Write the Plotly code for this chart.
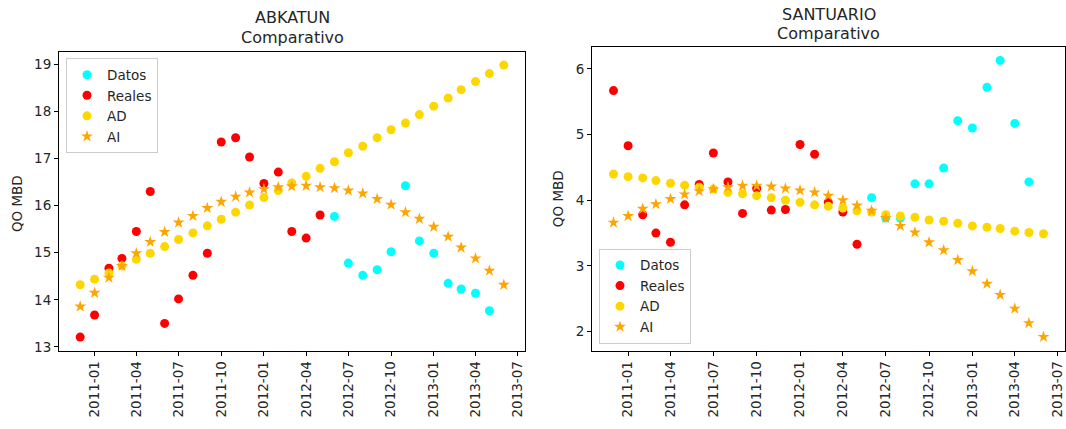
import plotly.graph_objects as go
import pandas as pd

# ---------------- data ----------------
months = ["2010-12-01", "2011-01-01", "2011-02-01", "2011-03-01", "2011-04-01", "2011-05-01",
          "2011-06-01", "2011-07-01", "2011-08-01", "2011-09-01", "2011-10-01", "2011-11-01",
          "2011-12-01", "2012-01-01", "2012-02-01", "2012-03-01", "2012-04-01", "2012-05-01",
          "2012-06-01", "2012-07-01", "2012-08-01", "2012-09-01", "2012-10-01", "2012-11-01",
          "2012-12-01", "2013-01-01", "2013-02-01", "2013-03-01", "2013-04-01", "2013-05-01",
          "2013-06-01"]
reales_months = months[:18]
datos_months = months[18:30]

abk_reales = [13.21, 13.68, 14.67, 14.88, 15.45, 16.30, 13.50, 14.02, 14.52, 14.99, 17.35, 17.44,
              17.03, 16.47, 16.71, 15.45, 15.31, 15.80]
abk_datos = [15.77, 14.78, 14.52, 14.64, 15.02, 16.42, 15.25, 14.99, 14.35, 14.23, 14.14, 13.77]
abk_ad = [14.32, 14.44, 14.57, 14.72, 14.86, 14.99, 15.13, 15.28, 15.42, 15.57, 15.71, 15.86,
          16.01, 16.17, 16.32, 16.48, 16.62, 16.79, 16.93, 17.12, 17.26, 17.44, 17.61, 17.75,
          17.93, 18.11, 18.28, 18.46, 18.63, 18.80, 18.98]
abk_ai = [13.86, 14.15, 14.47, 14.72, 14.99, 15.23, 15.44, 15.64, 15.78, 15.95, 16.08, 16.19,
          16.28, 16.35, 16.39, 16.41, 16.42, 16.39, 16.37, 16.32, 16.26, 16.14, 16.02, 15.86,
          15.72, 15.55, 15.34, 15.11, 14.88, 14.62, 14.32]

san_reales = [5.67, 4.83, 3.78, 3.50, 3.36, 3.93, 4.24, 4.72, 4.28, 3.80, 4.18, 3.85,
              3.86, 4.85, 4.70, 3.97, 3.82, 3.33]
san_datos = [4.04, 3.73, 3.73, 4.25, 4.25, 4.49, 5.21, 5.10, 5.72, 6.13, 5.17, 4.28]
san_ad = [4.40, 4.36, 4.34, 4.30, 4.26, 4.23, 4.20, 4.17, 4.12, 4.10, 4.07, 4.04,
          4.00, 3.97, 3.93, 3.91, 3.88, 3.84, 3.82, 3.78, 3.76, 3.74, 3.70, 3.68,
          3.65, 3.61, 3.59, 3.57, 3.53, 3.51, 3.49]
san_ai = [3.66, 3.76, 3.87, 3.94, 4.02, 4.09, 4.14, 4.17, 4.20, 4.22, 4.22, 4.21,
          4.18, 4.15, 4.12, 4.07, 4.00, 3.92, 3.84, 3.73, 3.61, 3.51, 3.36, 3.24,
          3.09, 2.92, 2.73, 2.56, 2.35, 2.13, 1.92]

titles = ["ABKATUN", "SANTUARIO"]
subtitle = "Comparativo"
ylabel = "QO MBD"
series_names = ["Datos", "Reales", "AD", "AI"]

# ---------------- layout ----------------
W, H = 1066, 429
FONT = "DejaVu Sans"
TXT = "#262626"
FS = 13.5

def px_x(p):
    return p / W

def px_y(p):
    return 1 - p / H

fig = go.Figure()

def add_panel(idx, reales, datos, ad, ai, legend_name):
    xa = "x" if idx == 0 else "x2"
    ya = "y" if idx == 0 else "y2"
    common = dict(mode="markers", xaxis=xa, yaxis=ya, legend=legend_name)
    fig.add_trace(go.Scatter(x=datos_months, y=datos, name=series_names[0],
                             marker=dict(color="#00FFFF", size=9), **common))
    fig.add_trace(go.Scatter(x=reales_months, y=reales, name=series_names[1],
                             marker=dict(color="#FF0000", size=9), **common))
    fig.add_trace(go.Scatter(x=months, y=ad, name=series_names[2],
                             marker=dict(color="#FFD700", size=9), **common))
    fig.add_trace(go.Scatter(x=months, y=ai, name=series_names[3],
                             marker=dict(color="#FFA500", size=9, symbol="star"), **common))

add_panel(0, abk_reales, abk_datos, abk_ad, abk_ai, "legend")
add_panel(1, san_reales, san_datos, san_ad, san_ai, "legend2")

def mpl_range(vals, dates=False):
    if dates:
        d = pd.to_datetime(pd.Series(vals))
        lo, hi = d.min(), d.max()
        m = (hi - lo) * 0.05
        return [(lo - m).strftime("%Y-%m-%d %H:%M"), (hi + m).strftime("%Y-%m-%d %H:%M")]
    lo, hi = min(vals), max(vals)
    m = (hi - lo) * 0.05
    return [lo - m, hi + m]

xr = mpl_range(months, dates=True)
yr1 = mpl_range(abk_reales + abk_datos + abk_ad + abk_ai)
yr2 = mpl_range(san_reales + san_datos + san_ad + san_ai)

axis_common = dict(showline=True, linecolor="#000000", linewidth=1, mirror=True,
                   ticks="outside", ticklen=4, tickcolor="#000000", showgrid=False,
                   zeroline=False, tickfont=dict(family=FONT, size=FS, color=TXT))
xcommon = dict(axis_common, type="date", tick0="2011-01-01", dtick="M3",
               tickformat="%Y-%m", tickangle=-90, range=xr)

legend_common = dict(bgcolor="rgba(255,255,255,0.85)", bordercolor="#CCCCCC", borderwidth=1,
                     font=dict(family=FONT, size=FS, color=TXT), tracegroupgap=0,
                     itemclick=False, itemdoubleclick=False)

fig.update_layout(
    width=W, height=H, autosize=False,
    margin=dict(l=0, r=0, t=0, b=0),
    paper_bgcolor="white", plot_bgcolor="white",
    font=dict(family=FONT, size=FS, color=TXT),
    xaxis=dict(xcommon, domain=[px_x(59), px_x(525)], anchor="y"),
    yaxis=dict(axis_common, domain=[px_y(354), px_y(52)], anchor="x", range=yr1, dtick=1),
    xaxis2=dict(xcommon, domain=[px_x(592), px_x(1065)], anchor="y2"),
    yaxis2=dict(axis_common, domain=[px_y(354), px_y(47)], anchor="x2", range=yr2, dtick=1),
    legend=dict(legend_common, x=px_x(66), y=px_y(59), xanchor="left", yanchor="top"),
    legend2=dict(legend_common, x=px_x(599), y=px_y(347), xanchor="left", yanchor="bottom"),
    showlegend=True,
)

annots = []
for cx, y1, y2, t in [((59 + 525) / 2, 17.5, 37.5, titles[0]),
                      ((592 + 1065) / 2, 14.5, 33.5, titles[1])]:
    annots.append(dict(text=t, x=px_x(cx), y=px_y(y1), xref="paper", yref="paper",
                       showarrow=False, xanchor="center", yanchor="middle",
                       font=dict(family=FONT, size=16, color=TXT)))
    annots.append(dict(text=subtitle, x=px_x(cx), y=px_y(y2), xref="paper", yref="paper",
                       showarrow=False, xanchor="center", yanchor="middle",
                       font=dict(family=FONT, size=16, color=TXT)))
for cx, cy in [(17, 206), (558, 201)]:
    annots.append(dict(text=ylabel, x=px_x(cx), y=px_y(cy), xref="paper", yref="paper",
                       showarrow=False, xanchor="center", yanchor="middle", textangle=-90,
                       font=dict(family=FONT, size=FS, color=TXT)))
fig.update_layout(annotations=annots)

fig.write_html("out.html", config={"displayModeBar": False},
               post_script="document.body.style.margin='0';document.body.style.overflow='hidden';")
